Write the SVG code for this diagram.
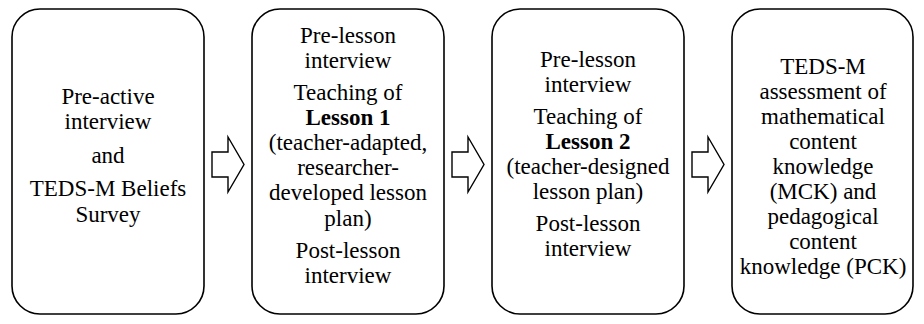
<svg xmlns="http://www.w3.org/2000/svg" width="924" height="324" viewBox="0 0 924 324">
<style>
.box{fill:#fff;stroke:#000;stroke-width:1.6}
.arr{fill:#fff;stroke:#000;stroke-width:1.4;stroke-linejoin:miter}
text{font-family:"Liberation Serif","Times New Roman",serif;font-size:23px;fill:#000;text-anchor:middle}
.b{font-weight:bold}
</style>
<rect width="924" height="324" fill="#fff"/>
<g id="node1">
<rect class="box" x="12" y="9" width="192" height="305" rx="28" ry="28"/>
<text x="108" y="104">Pre-active</text>
<text x="108" y="129">interview</text>
<text x="108" y="163">and</text>
<text x="108" y="196">TEDS-M Beliefs</text>
<text x="108" y="222">Survey</text>
</g>
<g id="node2">
<rect class="box" x="252" y="9" width="192" height="305" rx="28" ry="28"/>
<text x="348" y="43">Pre-lesson</text>
<text x="348" y="68">interview</text>
<text x="348" y="100">Teaching of</text>
<text x="348" y="125" class="b">Lesson 1</text>
<text x="348" y="150">(teacher-adapted,</text>
<text x="348" y="175">researcher-</text>
<text x="348" y="200">developed lesson</text>
<text x="348" y="226">plan)</text>
<text x="348" y="258">Post-lesson</text>
<text x="348" y="283">interview</text>
</g>
<g id="node3">
<rect class="box" x="492" y="9" width="192" height="305" rx="28" ry="28"/>
<text x="588" y="67">Pre-lesson</text>
<text x="588" y="92">interview</text>
<text x="588" y="124">Teaching of</text>
<text x="588" y="149" class="b">Lesson 2</text>
<text x="588" y="174">(teacher-designed</text>
<text x="588" y="199">lesson plan)</text>
<text x="588" y="231">Post-lesson</text>
<text x="588" y="256">interview</text>
</g>
<g id="node4">
<rect class="box" x="732" y="9" width="181" height="305" rx="28" ry="28"/>
<text x="823" y="74">TEDS-M</text>
<text x="823" y="99">assessment of</text>
<text x="823" y="124">mathematical</text>
<text x="823" y="149">content</text>
<text x="823" y="174">knowledge</text>
<text x="823" y="199">(MCK) and</text>
<text x="823" y="224">pedagogical</text>
<text x="823" y="249">content</text>
<text x="823" y="274">knowledge (PCK)</text>
</g>
<g id="connectors">
<path class="arr" d="M212,152 H228 V137 L244,164.5 L228,192 V177 H212 Z"/>
<path class="arr" d="M452,152 H468 V137 L484,164.5 L468,192 V177 H452 Z"/>
<path class="arr" d="M692,152 H708 V137 L724,164.5 L708,192 V177 H692 Z"/>
</g>
</svg>
